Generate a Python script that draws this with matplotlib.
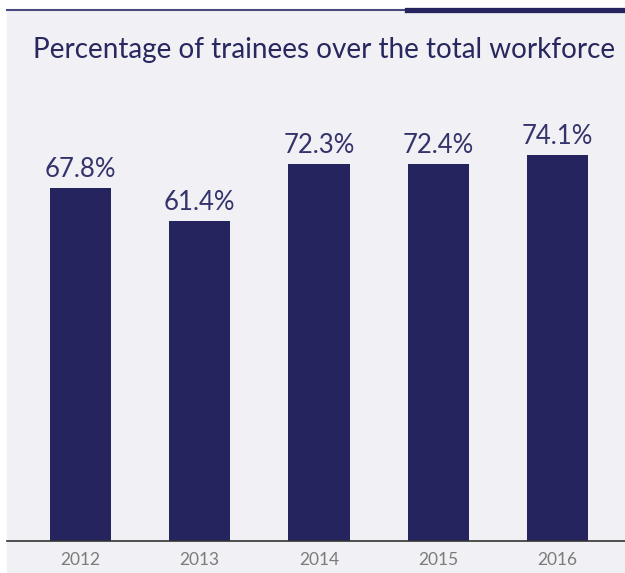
import matplotlib.pyplot as plt
from matplotlib.lines import Line2D
from matplotlib.patches import Rectangle

years = ["2012", "2013", "2014", "2015", "2016"]
pct = [67.8, 61.4, 72.3, 72.4, 74.1]

navy = "#25245f"
bg = "#f0f0f5"
W, H = 625, 573

plt.rcParams["font.family"] = ["Lato", "DejaVu Sans"]

fig = plt.figure(figsize=(W / 100, H / 100), dpi=100, facecolor="white")

# panel background and the rule on top
fig.patches.append(Rectangle((7 / W, 0), 1 - 7 / W, 1 - 10 / H,
                             transform=fig.transFigure, color=bg, zorder=-5))
fig.lines.append(Line2D([7 / W, 407 / W], [1 - 10 / H, 1 - 10 / H],
                        transform=fig.transFigure, color="#4b4a80", lw=1.5))
fig.lines.append(Line2D([407 / W, 1], [1 - 9.5 / H, 1 - 9.5 / H],
                        transform=fig.transFigure, color=navy, lw=3.8))

fig.text(33 / W, 1 - 58 / H, "Percentage of trainees over the total workforce",
         fontsize=20.1, color="#28275e", va="baseline", ha="left")

ax = fig.add_axes([7 / W, (H - 541) / H, (W - 7) / W, (541 - 80) / H])
ax.set_facecolor("none")
x = range(len(years))
bars = ax.bar(x, pct, width=0.512, color=navy)
ax.set_xlim(-0.616, 4.566)
ax.set_ylim(0, 88.5)

for b, v in zip(bars, pct):
    ax.annotate(f"{v}%", (b.get_x() + b.get_width() / 2, v),
                xytext=(0, 8), textcoords="offset points",
                ha="center", va="baseline", fontsize=18.5,
                color="#34336b")

ax.set_xticks(list(x))
ax.set_xticklabels(years, fontsize=12.5, color="#7b7b7b")
ax.tick_params(axis="x", length=0, pad=8)
ax.set_yticks([])
for s in ["top", "right", "left"]:
    ax.spines[s].set_visible(False)
ax.spines["bottom"].set_color("#333333")
ax.spines["bottom"].set_linewidth(1.2)

fig.savefig("out.png", dpi=100, facecolor=fig.get_facecolor())
